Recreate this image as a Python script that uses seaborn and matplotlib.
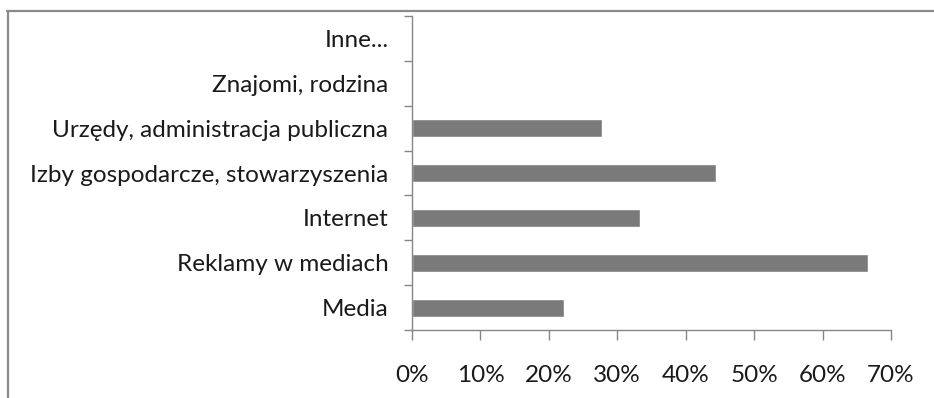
import matplotlib
matplotlib.use("Agg")
import matplotlib.pyplot as plt
from matplotlib.lines import Line2D
from matplotlib.ticker import FixedLocator, PercentFormatter
import seaborn as sns
import pandas as pd

# Source of information (share of respondents)
categories = [
    "Inne...",
    "Znajomi, rodzina",
    "Urzędy, administracja publiczna",
    "Izby gospodarcze, stowarzyszenia",
    "Internet",
    "Reklamy w mediach",
    "Media",
]
shares = [0.0, 0.0, 27.8, 44.4, 33.3, 66.7, 22.2]
x_ticks = [0, 10, 20, 30, 40, 50, 60, 70]

df = pd.DataFrame({"category": categories, "share": shares})

sns.set_theme(style="white")
plt.rcParams["font.family"] = ["Lato", "DejaVu Sans"]

W, H = 934, 398
fig = plt.figure(figsize=(W / 100, H / 100), dpi=100)
ax = fig.add_axes([412 / W, 1 - 330 / H, (891 - 412) / W, (330 - 16) / H])

axis_grey = "#868686"
sns.barplot(data=df, x="share", y="category", order=categories,
            color="#7a7a7a", saturation=1, width=0.4, ax=ax)

ax.set_xlim(0, 70)
ax.set_ylim(len(categories) - 0.5, -0.5)
ax.set_xlabel("")
ax.set_ylabel("")

ax.xaxis.set_major_locator(FixedLocator(x_ticks))
ax.xaxis.set_major_formatter(PercentFormatter(decimals=0))

# category labels without tick marks; tick marks sit between categories
ax.set_yticks(range(len(categories)))
ax.set_yticklabels(categories)
ax.yaxis.set_minor_locator(FixedLocator([i - 0.5 for i in range(len(categories) + 1)]))
ax.tick_params(axis="y", which="major", length=0, pad=17, labelsize=17.5,
               labelcolor="#1a1a1a")
ax.tick_params(axis="y", which="minor", left=True, length=6, width=1,
               color=axis_grey, direction="out")
ax.tick_params(axis="x", which="major", bottom=True, length=7, width=1,
               color=axis_grey, direction="out", pad=18, labelsize=17.5,
               labelcolor="#1a1a1a")

for side in ("top", "right"):
    ax.spines[side].set_visible(False)
for side in ("left", "bottom"):
    ax.spines[side].set_color(axis_grey)
    ax.spines[side].set_linewidth(1)

# outer chart frame
frame_col = "#8a8a8a"
fig.add_artist(Line2D([7 / W, 1], [1 - 11 / H, 1 - 11 / H], color=frame_col,
                      lw=1.6, transform=fig.transFigure))
fig.add_artist(Line2D([8 / W, 8 / W], [0, 1 - 11 / H], color=frame_col,
                      lw=1.6, transform=fig.transFigure))

fig.savefig("out.png", dpi=100)
